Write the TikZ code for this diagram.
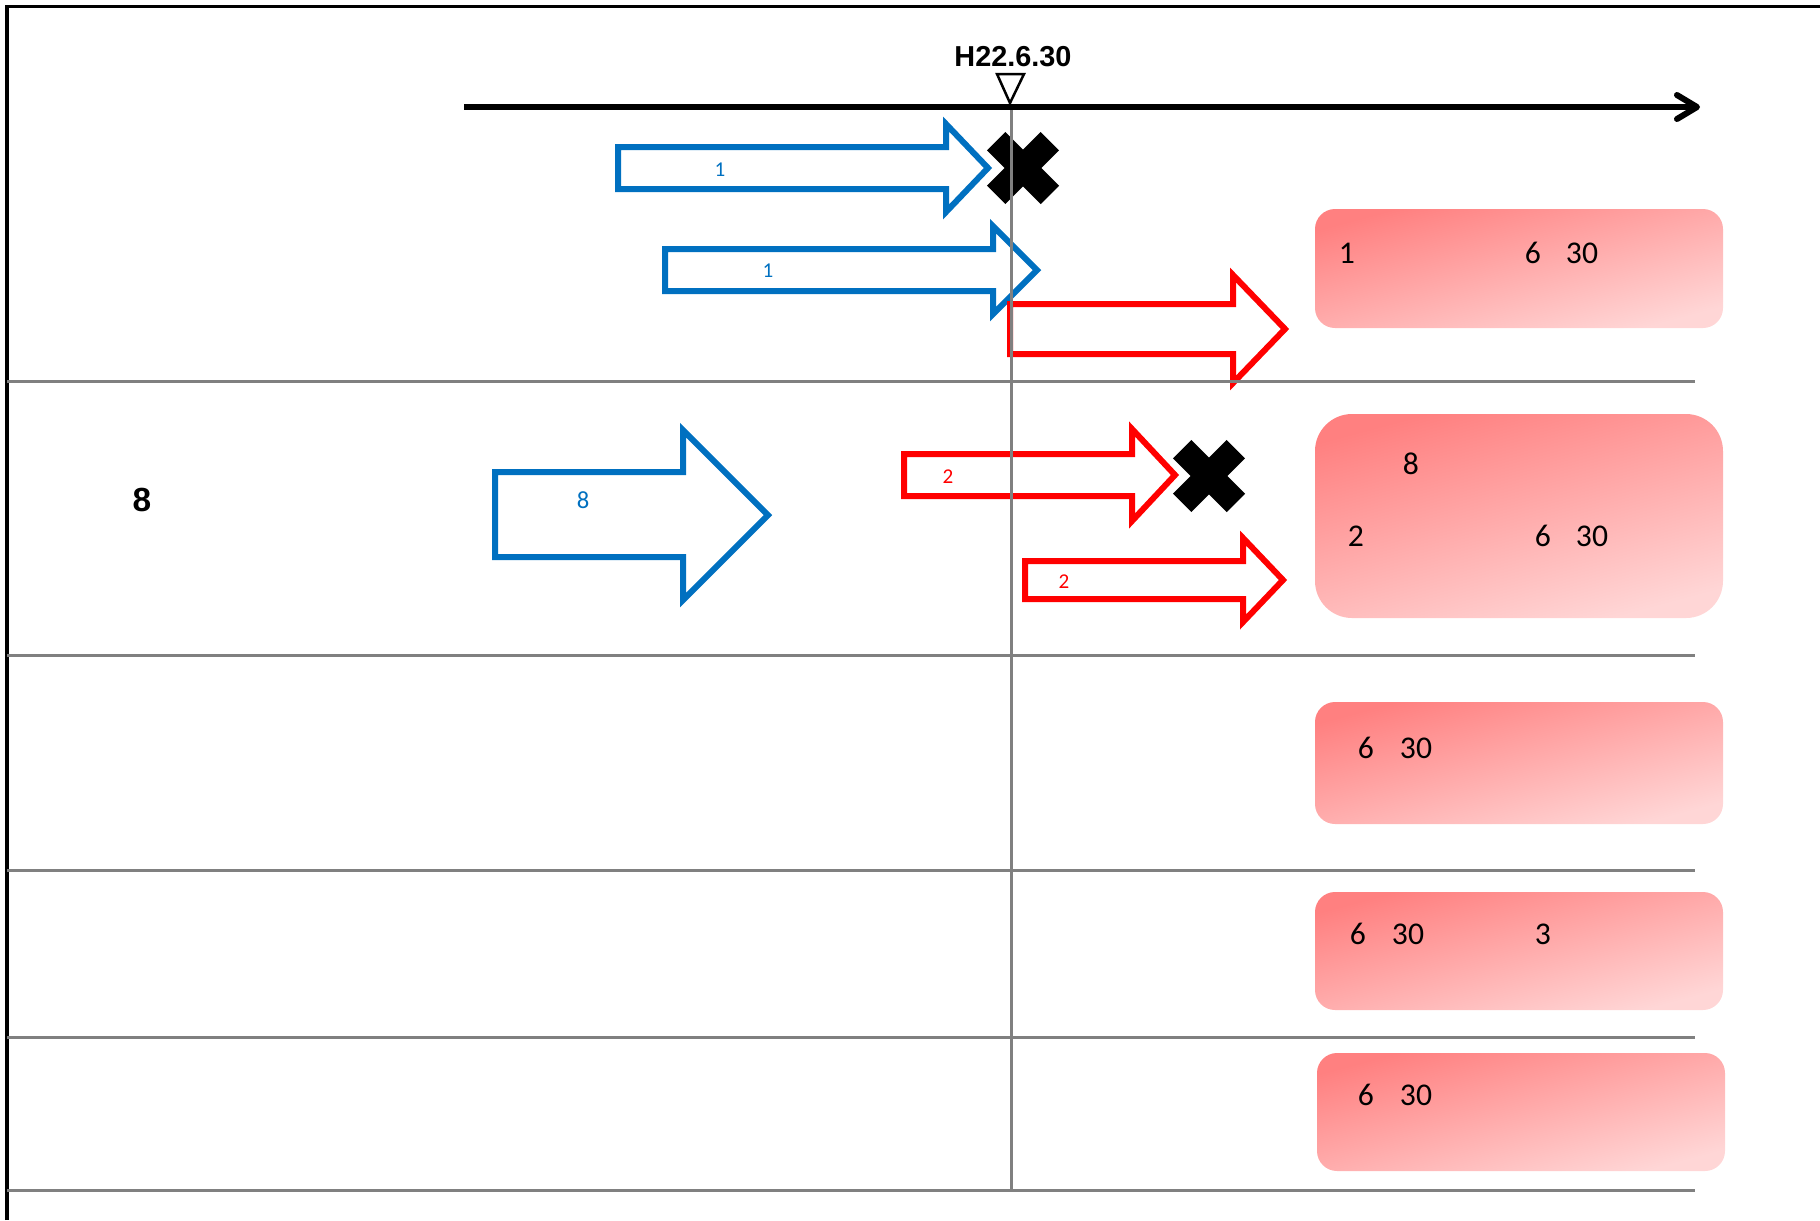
\documentclass[tikz,border=0pt]{standalone}
\usepackage{fontspec}
\setmainfont{Carlito}
\newfontfamily\gothic{Liberation Sans}
\usetikzlibrary{arrows.meta}

\definecolor{planblue}{HTML}{0070C0}
\definecolor{planred}{HTML}{FF0000}
\definecolor{pinkdark}{HTML}{FF8080}
\definecolor{pinklight}{HTML}{FFD6D6}
\definecolor{rulegray}{HTML}{808080}

\tikzset{
  bluearrow/.style={draw=planblue, line width=0.06cm},
  redarrow/.style={draw=planred, line width=0.06cm},
  pinkbox/.style={top color=pinkdark, bottom color=pinklight, shading angle=15},
  rowline/.style={draw=rulegray, line width=0.03cm},
  boxtext/.style={font=\fontsize{9}{9}\selectfont, inner sep=0pt},
  bluetext/.style={font=\fontsize{6}{6}\selectfont, text=planblue, inner sep=0pt},
  redtext/.style={font=\fontsize{6}{6}\selectfont, text=planred, inner sep=0pt},
}

\begin{document}
\begin{tikzpicture}[x=0.01cm, y=-0.01cm]
  \useasboundingbox (0,0) rectangle (1820,1220);
  \draw[line width=0.03cm] (7,1220) -- (7,6) -- (1820,6);

  % result boxes
  \shade[pinkbox, rounded corners=0.2cm] (1315,209) rectangle (1723,328);
  \shade[pinkbox, rounded corners=0.37cm] (1315,414) rectangle (1723,618);
  \shade[pinkbox, rounded corners=0.2cm] (1315,702) rectangle (1723,824);
  \shade[pinkbox, rounded corners=0.2cm] (1315,892) rectangle (1723,1010);
  \shade[pinkbox, rounded corners=0.2cm] (1317,1053) rectangle (1725,1171);

  % blue arrows
  \draw[bluearrow] (618,147) -- (946,147) -- (946,124) -- (988,168) -- (946,212) -- (946,189) -- (618,189) -- cycle;
  \draw[bluearrow] (665,249) -- (993,249) -- (993,226) -- (1037,270) -- (993,314) -- (993,291) -- (665,291) -- cycle;
  \draw[bluearrow] (495,472) -- (683,472) -- (683,430) -- (768,515) -- (683,600) -- (683,557) -- (495,557) -- cycle;

  % red arrows
  \draw[redarrow] (1010,304) -- (1233,304) -- (1233,275) -- (1285,329) -- (1233,383) -- (1233,354) -- (1010,354) -- cycle;
  \draw[redarrow] (904,454) -- (1132,454) -- (1132,429) -- (1175,475) -- (1132,521) -- (1132,496) -- (904,496) -- cycle;
  \draw[redarrow] (1025,561) -- (1243,561) -- (1243,538) -- (1283,580) -- (1243,622) -- (1243,599) -- (1025,599) -- cycle;

  % crosses
  \foreach \cx/\cy in {1023/168, 1209/476}
    \fill[shift={(\cx,\cy)}, rotate=45] (-38,-13) rectangle (38,13) (-13,-38) rectangle (13,38);

  % rows
  \draw[rowline] (1011,107) -- (1011,1190);
  \foreach \ry in {381,655,870,1037,1190}
    \draw[rowline] (7,\ry) -- (1695,\ry);

  % time axis
  \draw[line width=0.06cm, -{Straight Barb[length=0.2cm, width=0.24cm, line cap=round, line join=round]}] (464,107) -- (1700,107);
  \draw[fill=white, line width=0.025cm] (997,74) -- (1024,74) -- (1010,103) -- cycle;
  \node[font=\gothic\bfseries\fontsize{8.2}{8.2}\selectfont, inner sep=0pt] (date) at (1013,57) {H22.6.30};

  \node[font=\gothic\bfseries\fontsize{9.5}{9.5}\selectfont, inner sep=0pt] (rowlabel) at (142,500) {8};

  \node[bluetext] (a1) at (720,170) {1};
  \node[bluetext] (a2) at (768,271) {1};
  \node[bluetext, font=\fontsize{7}{7}\selectfont] (a8) at (583,500) {8};
  \node[redtext] (r2a) at (948,477) {2};
  \node[redtext] (r2b) at (1064,582) {2};

  \node[boxtext] (p1a) at (1347,253) {1};
  \node[boxtext] (p1b) at (1533,253) {6};
  \node[boxtext] (p1c) at (1582,253) {30};
  \node[boxtext] (p2a) at (1411,464) {8};
  \node[boxtext] (p2b) at (1356,536) {2};
  \node[boxtext] (p2c) at (1543,536) {6};
  \node[boxtext] (p2d) at (1592,536) {30};
  \node[boxtext] (p3a) at (1366,748) {6};
  \node[boxtext] (p3b) at (1416,748) {30};
  \node[boxtext] (p4a) at (1358,934) {6};
  \node[boxtext] (p4b) at (1408,934) {30};
  \node[boxtext] (p4c) at (1543,934) {3};
  \node[boxtext] (p5a) at (1366,1095) {6};
  \node[boxtext] (p5b) at (1416,1095) {30};
\end{tikzpicture}
\end{document}
